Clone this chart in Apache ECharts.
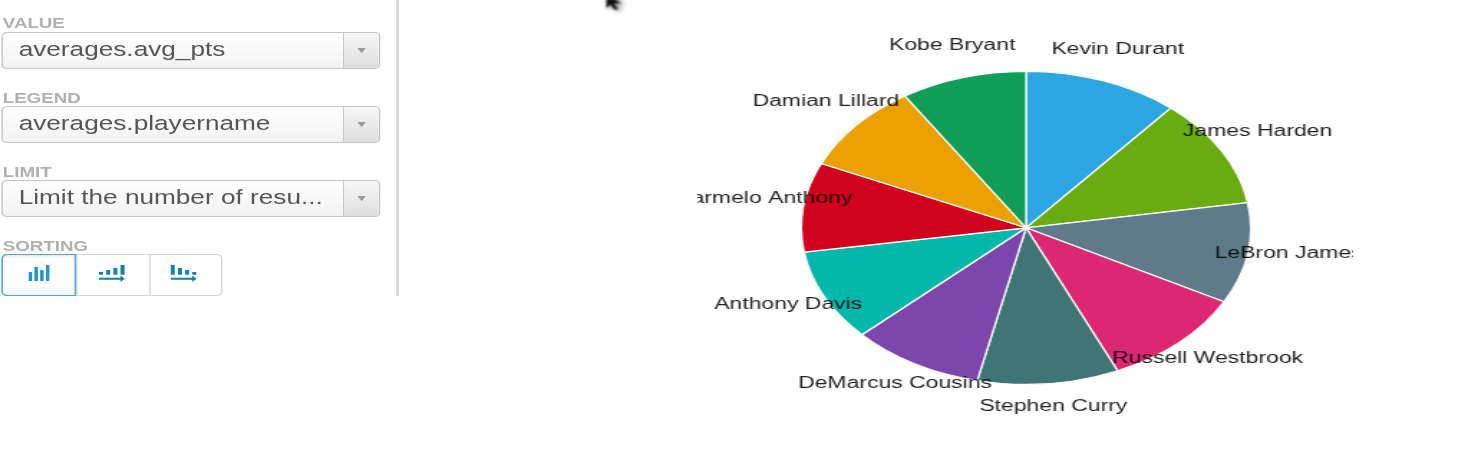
<!DOCTYPE html>
<html><head><meta charset="utf-8">
<script src="https://cdn.jsdelivr.net/npm/echarts@6/dist/echarts.min.js"></script>
<style>
html,body{margin:0;padding:0;background:#fff;width:1467px;height:465px;overflow:hidden;font-family:"Liberation Sans",Arial,sans-serif}
#stage{position:absolute;left:0;top:0;width:1023px;height:465px;transform:scale(1.435,1);transform-origin:0 0}
#chart{position:absolute;left:485.7px;top:0;width:457px;height:456px;overflow:hidden}
#panel{position:absolute;left:0;top:0;width:280px;height:300px;filter:blur(.45px)}
.cap{position:absolute;left:1.5px;font-size:14px;line-height:14px;font-weight:700;color:#b0b0b0;transform:scale(.93,1);transform-origin:0 50%;letter-spacing:0}
.sel{position:absolute;left:1.4px;width:262px;height:35px;border:1px solid #c4c4c4;border-radius:4px;box-sizing:content-box;background:linear-gradient(#fff,#f2f2f2)}
.sel span{position:absolute;left:11px;top:4.500px;font-size:20.5px;line-height:22px;color:#555;white-space:nowrap;transform:scale(.89,1);transform-origin:0 50%}
.sel b{position:absolute;right:0;top:0;bottom:0;width:24px;border-left:1px solid #c8c8c8;background:linear-gradient(#f6f6f6,#dedede);border-radius:0 3px 3px 0}
.sel b:after{content:"";position:absolute;left:9px;top:15px;border-left:3px solid transparent;border-right:3px solid transparent;border-top:5px solid #999}
#sort{position:absolute;left:1.4px;top:254px;width:154px;height:42px;border:1px solid #d5d5d5;border-radius:4px;box-sizing:border-box;background:#fff}
#sort i{position:absolute;top:0;bottom:0;border-left:1px solid #d5d5d5}
#act{position:absolute;left:-1px;top:-1px;width:52px;height:42px;border:1.5px solid #4da6d8;border-radius:4px 0 0 4px;box-sizing:border-box;box-shadow:inset 0 1px 3px #ddd}
#sort svg{position:absolute;top:8px;width:20px;height:20px}
#div{position:absolute;left:276px;top:0;width:2px;height:296px;background:#dcdcdc}
#cursor{position:absolute;left:421px;top:-6px;width:17px;height:17px;filter:blur(.8px) drop-shadow(2px 1px 2px #999)}
</style></head><body>
<div id="stage">
  <div id="panel">
    <div class="cap" style="top:16px">VALUE</div>
    <div class="sel" style="top:32px"><span id="s0"></span><b></b></div>
    <div class="cap" style="top:91px">LEGEND</div>
    <div class="sel" style="top:106px"><span id="s1"></span><b></b></div>
    <div class="cap" style="top:165px">LIMIT</div>
    <div class="cap" style="top:239px">SORTING</div>
    <div class="sel" style="top:180px"><span id="s2"></span><b></b></div>
    <div id="sort">
      <div id="act"></div>
      <i style="left:51px"></i><i style="left:102px"></i>
      <svg style="left:16px" viewBox="0 0 20 20"><path fill="#1e95cf" d="M2 9h2.400v9H2zM6 4h2.400v14H6zM10 7h2.400v11H10zM14 2h2.400v16H14z"/></svg>
      <svg style="left:66px" viewBox="0 0 20 20"><path fill="#177fb0" d="M1 9h2.800v2.800H1zM6 7h2.800v4.800H6zM11 5h2.800v6.800H11zM16 2h2.800v9.800H16zM1 14.800h15v-2.200l3 3.200-3 3.200v-2.200H1z"/></svg>
      <svg style="left:116px" viewBox="0 0 20 20"><path fill="#177fb0" d="M1 2h2.800v9.800H1zM6 5h2.800v6.800H6zM11 7h2.800v4.800H11zM16 9h2.800v2.800H16zM1 14.800h15v-2.200l3 3.200-3 3.200v-2.200H1z"/></svg>
    </div>
    <div id="div"></div>
  </div>
  <svg id="cursor" viewBox="0 0 16 17"><path fill="#111" stroke="#888" stroke-width=".6" d="M1 0l0 14 3-3 3 5 2.500-1-3-5 5-1z"/></svg>
  <div id="chart"></div>
</div>
<script>
var players = ["Kevin Durant","James Harden","LeBron James","Russell Westbrook","Stephen Curry","DeMarcus Cousins","Anthony Davis","Carmelo Anthony","Damian Lillard","Kobe Bryant"];
var avgPts = [32.1,32.5,30.0,30.2,29.3,27.5,27.3,26.6,26.5,26.1];
var colors = ["#2ba6e1","#6aab12","#5f7a8a","#dc2873","#407575","#7c46ab","#02b8ab","#d1001c","#e9a000","#0f9d58"];
var controls = ["averages.avg_pts","averages.playername","Limit the number of resu..."];
controls.forEach(function(t,i){document.getElementById("s"+i).textContent=t;});
var data = players.map(function(n,i){return {name:n,value:avgPts[i]};});
var chart = echarts.init(document.getElementById("chart"),null,{renderer:"canvas"});
chart.setOption({
  animation:false,
  color:colors,
  series:[
    {type:"pie",center:[229,227.8],radius:[0,156.5],startAngle:90,clockwise:true,silent:true,
     avoidLabelOverlap:false,data:data,
     itemStyle:{borderColor:"#fff",borderWidth:1.2},
     label:{show:false},labelLine:{show:false}},
    {type:"pie",center:[229.5,223],radius:[181,183],startAngle:90,clockwise:true,silent:true,
     avoidLabelOverlap:false,data:data,
     itemStyle:{color:"transparent",borderWidth:0},
     label:{show:true,position:"inside",color:"#000",opacity:0.88,fontFamily:"Liberation Sans",fontSize:16,textBorderWidth:0,textShadowBlur:0},
     labelLine:{show:false}}
  ]
});
</script>
</body></html>
